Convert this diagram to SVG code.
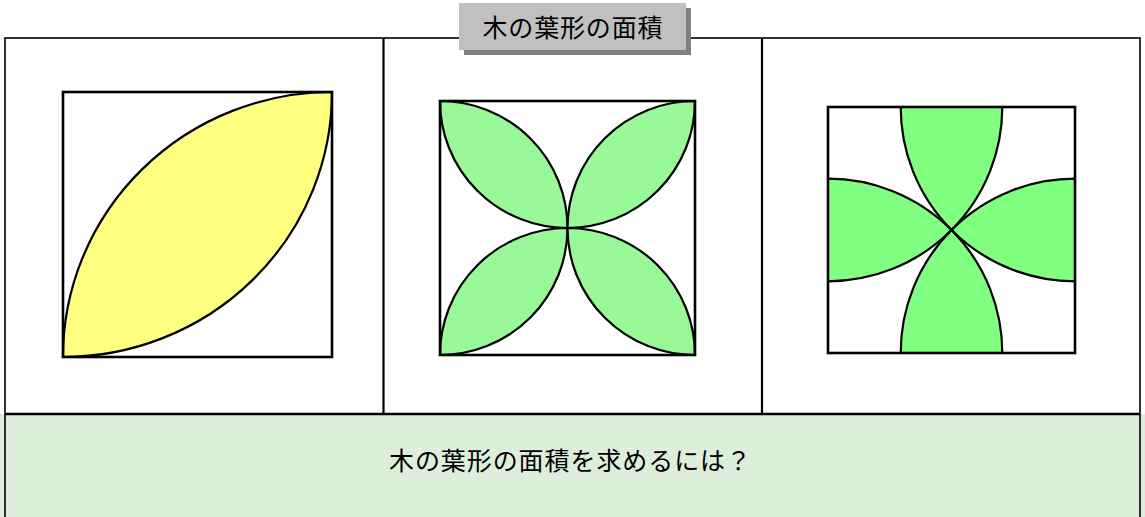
<svg xmlns="http://www.w3.org/2000/svg" width="1145" height="517" viewBox="0 0 1145 517">
<style>
.frame{fill:none;stroke:#000;stroke-width:1.6}
.div{stroke:#000;stroke-width:2.2}
.sq{fill:none;stroke:#000;stroke-width:2.6}
.arc{fill:none;stroke:#000;stroke-width:2.2}
.leafY{fill:#FFFF80;stroke:#000;stroke-width:2.2}
.leafG{fill:#99F999;stroke:#000;stroke-width:2.2}
.lobe{fill:#80FF80;stroke:none}
.txt{font-family:"Noto Sans CJK JP","Noto Sans CJK SC",sans-serif;font-size:25px;fill:#000;text-anchor:middle}
</style>
<rect width="1145" height="517" fill="#fff"/>
<g id="frame">
<rect x="0" y="414" width="1145" height="103" fill="#DDEFDA"/>
<rect class="frame" x="5" y="38" width="1135" height="500"/>
<line class="div" x1="383.5" y1="38" x2="383.5" y2="414"/>
<line class="div" x1="762" y1="38" x2="762" y2="414"/>
<line x1="5" y1="414" x2="1140" y2="414" stroke="#000" stroke-width="2.6"/>
</g>
<g id="title">
<rect x="464" y="8" width="227" height="47" fill="#808080"/>
<rect x="459" y="3" width="227" height="47" fill="#C0C0C0"/>
<text class="txt" x="572.5" y="37" textLength="180" lengthAdjust="spacing">木の葉形の面積</text>
</g>
<g id="panel1">
<path class="leafY" d="M63,357 A269 265 0 0 1 332,92 A269 265 0 0 1 63,357 Z"/>
<rect class="sq" x="63" y="92" width="269" height="265"/>
</g>
<g id="panel2">
<path class="leafG" d="M440,101 A127.5 127 0 0 1 567.5,228 A127.5 127 0 0 1 440,101 Z"/>
<path class="leafG" d="M695,101 A127.5 127 0 0 0 567.5,228 A127.5 127 0 0 0 695,101 Z"/>
<path class="leafG" d="M440,355 A127.5 127 0 0 0 567.5,228 A127.5 127 0 0 0 440,355 Z"/>
<path class="leafG" d="M695,355 A127.5 127 0 0 1 567.5,228 A127.5 127 0 0 1 695,355 Z"/>
<rect class="sq" x="440" y="101" width="255" height="254"/>
</g>
<g id="panel3">
<path class="lobe" d="M900.7,107 A174.3 174.3 0 0 0 951.5,230 A174.3 174.3 0 0 0 1002.3,107 Z"/>
<path class="lobe" d="M900.7,353 A174.3 174.3 0 0 1 951.5,230 A174.3 174.3 0 0 1 1002.3,353 Z"/>
<path class="lobe" d="M828,178.7 A174.3 174.3 0 0 1 951.5,230 A174.3 174.3 0 0 1 828,281.3 Z"/>
<path class="lobe" d="M1075,178.7 A174.3 174.3 0 0 0 951.5,230 A174.3 174.3 0 0 0 1075,281.3 Z"/>
<path class="arc" d="M1002.3,107 A174.3 174.3 0 0 1 828,281.3"/>
<path class="arc" d="M900.7,107 A174.3 174.3 0 0 0 1075,281.3"/>
<path class="arc" d="M828,178.7 A174.3 174.3 0 0 1 1002.3,353"/>
<path class="arc" d="M1075,178.7 A174.3 174.3 0 0 0 900.7,353"/>
<rect class="sq" x="828" y="107" width="247" height="246"/>
</g>
<g id="question">
<text class="txt" x="570" y="470" textLength="362" lengthAdjust="spacing">木の葉形の面積を求めるには？</text>
</g>
</svg>
